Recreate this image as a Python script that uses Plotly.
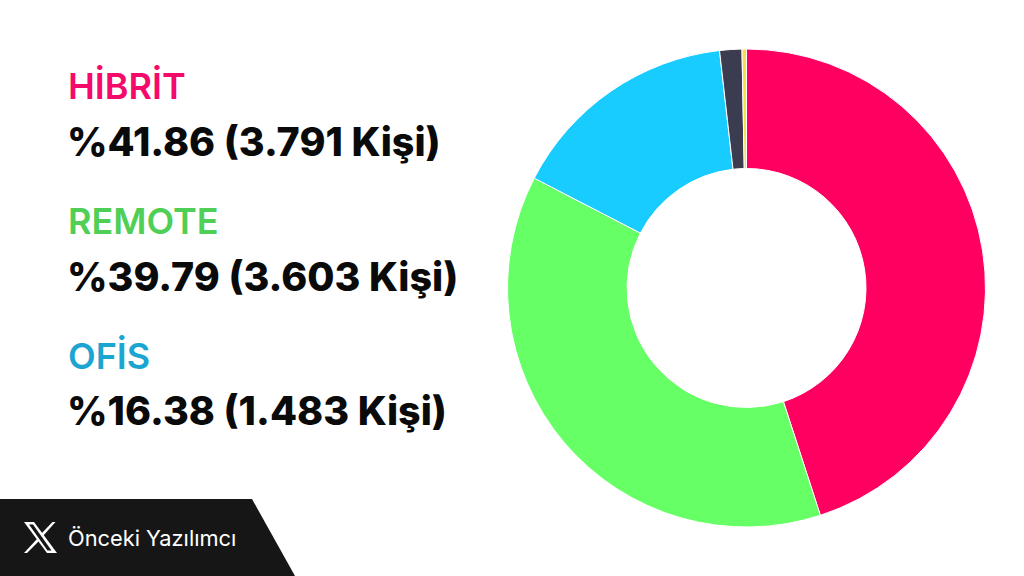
import plotly.graph_objects as go

# Data
categories = ["Hibrit", "Remote", "Ofis", "Diğer", "Belirtilmemiş"]
values = [45.0, 37.6, 15.6, 1.5, 0.3]
slice_colors = ["#FF0060", "#66FF66", "#19CCFF", "#3C3C50", "#F5E050"]
headings = ["HİBRİT", "REMOTE", "OFİS"]
heading_colors = ["#F5096A", "#4FCF55", "#1AA6D0"]
details = ["%41.86 (3.791 Kişi)", "%39.79 (3.603 Kişi)", "%16.38 (1.483 Kişi)"]
footer_label = "Önceki Yazılımcı"

W, H = 1024, 576
FONT = "Inter, Lato, sans-serif"


def px(x):
    return x / W


def py(y):
    return 1 - y / H


fig = go.Figure(
    go.Pie(
        labels=categories,
        values=values,
        hole=0.5,
        sort=False,
        direction="clockwise",
        rotation=0,
        marker=dict(colors=slice_colors, line=dict(color="white", width=1)),
        textinfo="none",
        hoverinfo="label+percent",
        domain=dict(x=[px(507.5), px(985.5)], y=[py(527), py(49)]),
    )
)

annotations = []
heading_y = [86, 221, 356]
detail_y = [142, 277, 411]
for head, color, detail, hy, dy in zip(headings, heading_colors, details, heading_y, detail_y):
    annotations.append(dict(x=px(66), y=py(hy), xref="paper", yref="paper", text=head,
                            showarrow=False, xanchor="left", yanchor="middle",
                            font=dict(family=FONT, size=36, color=color, weight=600)))
    annotations.append(dict(x=px(65), y=py(dy), xref="paper", yref="paper", text=detail,
                            showarrow=False, xanchor="left", yanchor="middle",
                            font=dict(family=FONT, size=39.4, color="#0A0A0A", weight=800)))
annotations.append(dict(x=px(66), y=py(538), xref="paper", yref="paper", text=footer_label,
                        showarrow=False, xanchor="left", yanchor="middle",
                        font=dict(family=FONT, size=21.8, color="white", weight=400)))


def poly(points):
    return "M " + " L ".join(f"{px(x):.5f},{py(y):.5f}" for x, y in points) + " Z"


banner = poly([(0, 499), (252, 499), (295, 576), (0, 576)])
x_thick = poly([(24, 522), (34, 522), (57, 553), (47, 553)])
x_hollow = poly([(29, 524.5), (33, 524.5), (51.5, 550.5), (47.5, 550.5)])
x_thin_top = poly([(52.5, 522), (55.5, 522), (43, 536), (41.5, 533.5)])
x_thin_bottom = poly([(37, 539), (38.5, 541.5), (27, 553), (24, 553)])

shapes = [
    dict(type="path", xref="paper", yref="paper", path=banner, fillcolor="#161616", line=dict(width=0)),
    dict(type="path", xref="paper", yref="paper", path=x_thick, fillcolor="white", line=dict(width=0)),
    dict(type="path", xref="paper", yref="paper", path=x_hollow, fillcolor="#161616", line=dict(width=0)),
    dict(type="path", xref="paper", yref="paper", path=x_thin_top, fillcolor="white", line=dict(width=0)),
    dict(type="path", xref="paper", yref="paper", path=x_thin_bottom, fillcolor="white", line=dict(width=0)),
]

fig.update_layout(
    width=W,
    height=H,
    margin=dict(l=0, r=0, t=0, b=0),
    paper_bgcolor="white",
    plot_bgcolor="white",
    showlegend=False,
    annotations=annotations,
    shapes=shapes,
)

fig.write_html("out.html", config=dict(displayModeBar=False),
               post_script="document.body.style.margin='0';")
